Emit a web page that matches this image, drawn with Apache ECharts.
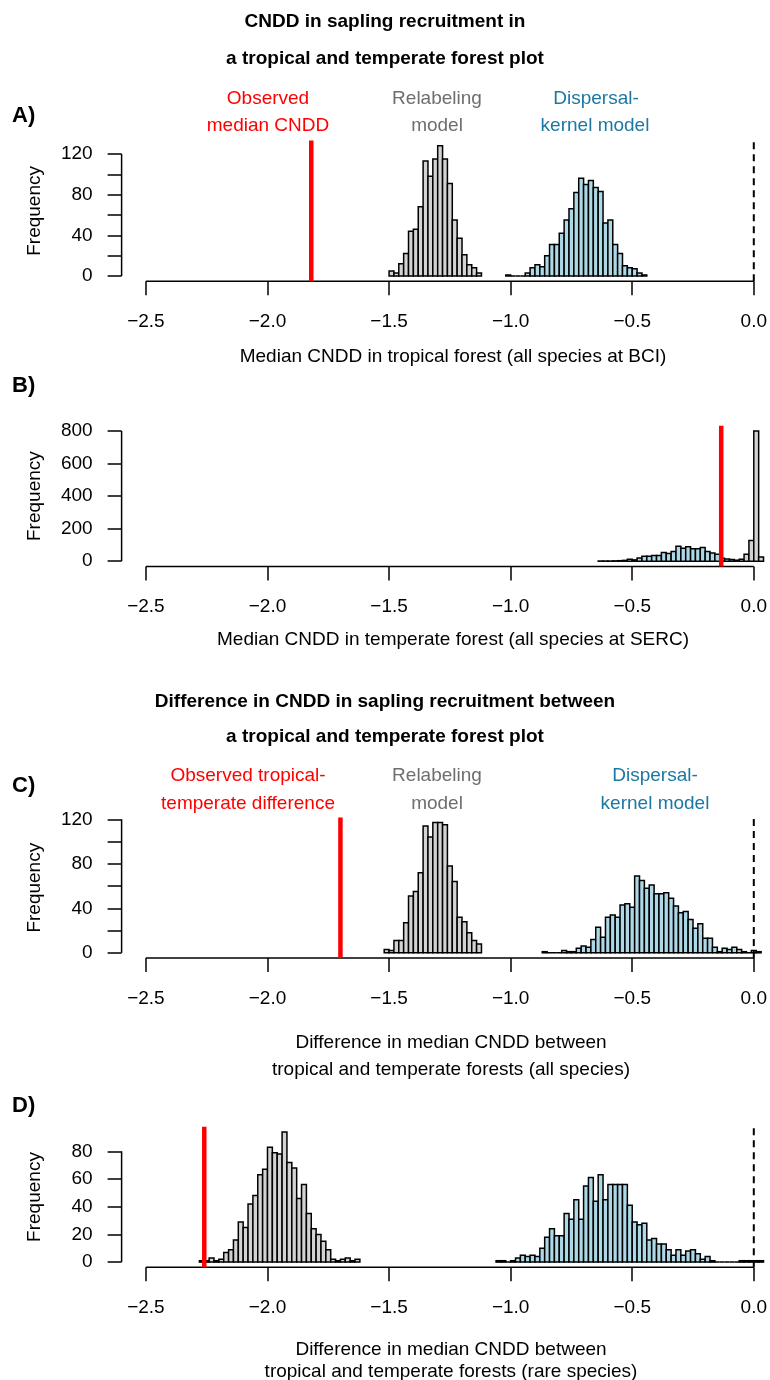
<!DOCTYPE html>
<html><head><meta charset="utf-8">
<script src="https://cdn.jsdelivr.net/npm/echarts@6/dist/echarts.min.js"></script>
<style>html,body{margin:0;padding:0;background:#fff}#c{width:770px;height:1380px}</style>
</head><body><div id="c"></div>
<script>
// ---------------- data ----------------
const binWidth = 0.02;
const xTicks = [-2.5, -2.0, -1.5, -1.0, -0.5, 0.0];

// Panel A: tropical forest (BCI)
const relabelA_start = -1.50;
const relabelA = [5,3,12,22,44,46,68,113,98,115,128,115,91,55,37,21,11,8,3];
const dispA_start = -1.02;
const dispA = [1,0,0,0,3,8,11,9,20,31,31,42,55,66,82,96,90,94,87,83,52,55,31,22,10,8,7,3,1];
const observedA = -1.82;
const yTicksA = [0,20,40,60,80,100,120];
const yLabelsA = [0,40,80,120];

// Panel B: temperate forest (SERC)
const relabelB_start = -0.06;
const relabelB = [12,43,127,800,25];
const dispB_start = -0.64;
const dispB = [1,1,1,2,3,5,12,8,20,31,31,35,35,53,47,59,92,80,88,76,76,84,59,51,43,18,14,10,6];
const observedB = -0.134;
const yTicksB = [0,200,400,600,800];
const yLabelsB = [0,200,400,600,800];

// Panel C: tropical-temperate difference (all species)
const relabelC_start = -1.52;
const relabelC = [3,2,11,11,27,51,55,72,114,104,117,117,115,78,64,32,28,18,11,8];
const dispC_start = -0.87;
const dispC = [1,0,0,0,2,1,1,4,6,5,12,23,14,32,34,32,43,44,41,69,65,58,61,53,53,54,49,42,36,37,30,22,26,13,13,5,1,4,3,5,3,1,0,2,1];
const observedC = -1.70;
const yTicksC = [0,20,40,60,80,100,120];
const yLabelsC = [0,40,80,120];

// Panel D: tropical-temperate difference (rare species)
const relabelD_start = -2.28;
const relabelD = [1,1,3,1,2,7,9,16,29,25,42,48,63,67,83,79,78,94,72,68,46,56,35,24,20,15,9,2,1,2,3,1,2];
const dispD_start = -1.06;
const dispD = [1,1,0,1,3,5,4,5,4,10,18,24,19,19,35,31,45,31,55,61,44,63,45,56,56,56,56,41,29,27,28,16,17,13,13,9,5,9,5,8,9,6,2,4,1,0,0,0,0,0,1,1,1,1,1];
const observedD = -2.26;
const yTicksD = [0,20,40,60,80];
const yLabelsD = [0,20,40,60,80];

// ---------------- layout / styles ----------------
const FONT = '"Liberation Sans", Arial, sans-serif';
const FS = 19;
const RELABEL_FILL = '#D3D3D3';
const DISP_FILL = '#ADD8E6';
const RED = '#FF0000';
const GRAYTXT = '#6E6E6E';
const BLUETXT = '#1C78A3';
const X_MIN = -2.6, X_MAX = 0.0574;   // plot region clipped at the right edge of the figure
const GRID_LEFT = 121.6, GRID_W = 648.4, GRID_H = 140.6;

const panels = [
  {top:140.6, rel:[relabelA_start, relabelA], disp:[dispA_start, dispA], obs:observedA, yt:yTicksA, yl:yLabelsA, dashed:true},
  {top:425.8, rel:[relabelB_start, relabelB], disp:[dispB_start, dispB], obs:observedB, yt:yTicksB, yl:yLabelsB, dashed:false},
  {top:817.4, rel:[relabelC_start, relabelC], disp:[dispC_start, dispC], obs:observedC, yt:yTicksC, yl:yLabelsC, dashed:true},
  {top:1126.7, rel:[relabelD_start, relabelD], disp:[dispD_start, dispD], obs:observedD, yt:yTicksD, yl:yLabelsD, dashed:true}
];

const grids = [], xAxes = [], yAxes = [], series = [];

function histSeries(idx, start, counts, fill) {
  const data = counts.map((c, i) => [start + i * binWidth, start + (i + 1) * binWidth, c]);
  return {
    type: 'custom', xAxisIndex: idx, yAxisIndex: idx, z: 2, silent: true,
    encode: {x: [0, 1], y: 2},
    data: data,
    renderItem: (params, api) => {
      const p0 = api.coord([api.value(0), api.value(2)]);
      const p1 = api.coord([api.value(1), 0]);
      return {type: 'rect', shape: {x: p0[0], y: p0[1], width: p1[0] - p0[0], height: p1[1] - p0[1]},
        style: {fill: fill, stroke: '#000', lineWidth: 1.5}};
    }
  };
}
function segSeries(idx, segs, style, z) {
  return {
    type: 'custom', xAxisIndex: idx, yAxisIndex: idx, z: z, silent: true,
    encode: {x: [0, 2], y: [1, 3]},
    data: segs,
    renderItem: (params, api) => {
      const a = api.coord([api.value(0), api.value(1)]);
      const b = api.coord([api.value(2), api.value(3)]);
      return {type: 'line', shape: {x1: a[0], y1: a[1], x2: b[0], y2: b[1]},
        style: Object.assign({stroke: '#000', lineWidth: 1.5}, style)};
    }
  };
}

panels.forEach((p, i) => {
  const M = Math.max(Math.max(...p.rel[1]), Math.max(...p.disp[1]));
  const yMin = -0.04 * M, yMax = 1.04 * M;
  grids.push({left: GRID_LEFT, top: p.top, width: GRID_W, height: GRID_H});
  xAxes.push({
    type: 'value', gridIndex: i, min: X_MIN, max: X_MAX, position: 'bottom',
    axisLine: {show: false, onZero: false}, splitLine: {show: false},
    axisTick: {show: true, length: 14, customValues: xTicks, lineStyle: {color: '#000', width: 1.5}},
    axisLabel: {show: true, customValues: xTicks, margin: 31, color: '#000', fontSize: FS, fontFamily: FONT,
      formatter: v => (v < 0 ? '\u2212' : '') + Math.abs(v).toFixed(1)}
  });
  yAxes.push({
    type: 'value', gridIndex: i, min: yMin, max: yMax, position: 'left',
    axisLine: {show: false, onZero: false}, splitLine: {show: false},
    axisTick: {show: true, length: 14, customValues: p.yt, lineStyle: {color: '#000', width: 1.5}},
    axisLabel: {show: true, customValues: p.yl, margin: 29, color: '#000', fontSize: FS, fontFamily: FONT,
      formatter: v => String(v)}
  });
  series.push(histSeries(i, p.rel[0], p.rel[1], RELABEL_FILL));
  series.push(histSeries(i, p.disp[0], p.disp[1], DISP_FILL));
  // axis lines (R-style: span first to last tick)
  series.push(segSeries(i, [
    [xTicks[0], yMin, xTicks[xTicks.length - 1], yMin],
    [X_MIN, p.yt[0], X_MIN, p.yt[p.yt.length - 1]]
  ], {lineWidth: 1.5}, 3));
  if (p.dashed) series.push(segSeries(i, [[0, yMin, 0, yMax]], {lineWidth: 2, lineDash: [7, 5]}, 4));
  series.push(segSeries(i, [[p.obs, yMin, p.obs, yMax]], {stroke: RED, lineWidth: 4.5}, 5));
});

function txt(x, y, s, opt) {
  return Object.assign({type: 'text', x: x, y: y, silent: true,
    style: Object.assign({text: s, fill: '#000', font: `${FS}px ${FONT}`, textAlign: 'center', textVerticalAlign: 'middle'}, opt || {})});
}
const bold = (sz) => `bold ${sz}px ${FONT}`;
const graphics = [
  txt(385, 22, 'CNDD in sapling recruitment in', {font: bold(19)}),
  txt(385, 59, 'a tropical and temperate forest plot', {font: bold(19)}),
  txt(12, 116, 'A)', {font: bold(22), textAlign: 'left'}),
  txt(268, 99, 'Observed', {fill: RED}),
  txt(268, 126, 'median CNDD', {fill: RED}),
  txt(437, 99, 'Relabeling', {fill: GRAYTXT}),
  txt(437, 126, 'model', {fill: GRAYTXT}),
  txt(596, 99, 'Dispersal-', {fill: BLUETXT}),
  txt(595, 126, 'kernel model', {fill: BLUETXT}),
  txt(453, 357, 'Median CNDD in tropical forest (all species at BCI)'),
  txt(12, 386, 'B)', {font: bold(22), textAlign: 'left'}),
  txt(453, 640, 'Median CNDD in temperate forest (all species at SERC)'),
  txt(385, 702, 'Difference in CNDD in sapling recruitment between', {font: bold(19)}),
  txt(385, 737, 'a tropical and temperate forest plot', {font: bold(19)}),
  txt(12, 786, 'C)', {font: bold(22), textAlign: 'left'}),
  txt(248, 776, 'Observed tropical-', {fill: RED}),
  txt(248, 804, 'temperate difference', {fill: RED}),
  txt(437, 776, 'Relabeling', {fill: GRAYTXT}),
  txt(437, 804, 'model', {fill: GRAYTXT}),
  txt(655, 776, 'Dispersal-', {fill: BLUETXT}),
  txt(655, 804, 'kernel model', {fill: BLUETXT}),
  txt(451, 1043, 'Difference in median CNDD between'),
  txt(451, 1070, 'tropical and temperate forests (all species)'),
  txt(12, 1106, 'D)', {font: bold(22), textAlign: 'left'}),
  txt(451, 1350, 'Difference in median CNDD between'),
  txt(451, 1372, 'tropical and temperate forests (rare species)')
];
panels.forEach(p => {
  graphics.push(Object.assign(txt(35, p.top + GRID_H / 2, 'Frequency'), {rotation: Math.PI / 2}));
});

const chart = echarts.init(document.getElementById('c'), null, {renderer: 'canvas'});
chart.setOption({
  animation: false,
  backgroundColor: '#fff',
  grid: grids, xAxis: xAxes, yAxis: yAxes, series: series,
  graphic: graphics
});
</script></body></html>
